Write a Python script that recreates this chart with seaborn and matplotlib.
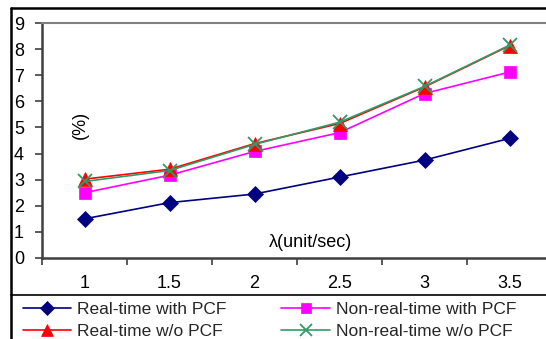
import matplotlib
matplotlib.use("Agg")
import matplotlib.pyplot as plt
from matplotlib.lines import Line2D
from matplotlib.ticker import FixedLocator
import seaborn as sns
import pandas as pd

sns.set_theme(style="white")
plt.rcParams["font.family"] = ["Liberation Sans", "DejaVu Sans"]

# arrival rate (unit/sec)
lam = [1, 1.5, 2, 2.5, 3, 3.5]
lam_labels = ["1", "1.5", "2", "2.5", "3", "3.5"]

rt_with_pcf = [1.5, 2.12, 2.45, 3.1, 3.75, 4.58]
nrt_with_pcf = [2.5, 3.17, 4.08, 4.8, 6.3, 7.12]
rt_without_pcf = [3.02, 3.4, 4.38, 5.15, 6.55, 8.13]
nrt_without_pcf = [2.93, 3.35, 4.35, 5.2, 6.57, 8.15]

series = [
    ("Real-time with PCF", rt_with_pcf, "#000080", "D", 8.5),
    ("Non-real-time with PCF", nrt_with_pcf, "#FF00FF", "s", 8.5),
    ("Real-time w/o PCF", rt_without_pcf, "#FF0000", "^", 9.5),
    ("Non-real-time w/o PCF", nrt_without_pcf, "#339966", "x", 10),
]

W, H = 546, 339
fig = plt.figure(figsize=(W / 100, H / 100), dpi=100)

left_px, right_px, top_px, bottom_px = 42, 552, 23, 258
ax = fig.add_axes([left_px / W, 1 - bottom_px / H,
                   (right_px - left_px) / W, (bottom_px - top_px) / H])

handles = {}
for name, vals, color, marker, ms in series:
    df = pd.DataFrame({"lam": lam, "val": vals})
    mew = 1.3 if marker == "x" else 0.5
    sns.lineplot(data=df, x="lam", y="val", ax=ax, color=color,
                 marker=marker, markersize=ms, linewidth=1.2,
                 markeredgecolor=color, markeredgewidth=mew, legend=False)
    handles[name] = Line2D([], [], color=color, marker=marker, markersize=ms * 0.85,
                           linewidth=1.2, markeredgecolor=color, markeredgewidth=mew)

ax.set_xlim(0.75, 3.75)
ax.set_ylim(0, 9)
ax.set_xlabel("")
ax.set_ylabel("")

ax.xaxis.set_major_locator(FixedLocator(lam))
ax.set_xticklabels(lam_labels)
ax.xaxis.set_minor_locator(FixedLocator([0.75 + 0.5 * i for i in range(7)]))
ax.tick_params(axis="x", which="major", length=0, pad=12, labelsize=13, labelcolor="black")
ax.tick_params(axis="x", which="minor", bottom=True, length=5, width=1.2, color="#404040", direction="out")
ax.set_yticks(range(10))
ax.tick_params(axis="y", which="major", left=True, length=5, width=1.2, color="#404040",
               direction="out", pad=8, labelsize=13, labelcolor="black")

for side in ("left", "bottom"):
    ax.spines[side].set_color("#404040")
    ax.spines[side].set_linewidth(1.8)
ax.spines["right"].set_visible(False)
ax.spines["top"].set_color("#808080")
ax.spines["top"].set_linewidth(1.5)

ax.text(0.0745, 0.566, "(%)", transform=ax.transAxes, rotation=90,
        ha="center", va="center", fontsize=13, color="black")
ax.text(0.527, 0.064, "λ(unit/sec)", transform=ax.transAxes,
        ha="center", va="center", fontsize=13, color="black")

# outer chart border and legend separator
fig.add_artist(Line2D([11 / W, 11 / W], [0, 1 - 8 / H], color="black", linewidth=1.8,
                      transform=fig.transFigure))
fig.add_artist(Line2D([11 / W, 1], [1 - 8 / H, 1 - 8 / H], color="black", linewidth=1.8,
                      transform=fig.transFigure))
fig.add_artist(Line2D([11 / W, 1], [1 - 295 / H, 1 - 295 / H], color="black", linewidth=1.2,
                      transform=fig.transFigure))

order = ["Real-time with PCF", "Real-time w/o PCF",
         "Non-real-time with PCF", "Non-real-time w/o PCF"]
fig.legend([handles[n] for n in order], order, ncol=2, loc="upper left",
           bbox_to_anchor=(13 / W, 1 - 292 / H), frameon=False,
           fontsize=12.5, handlelength=2.8, handletextpad=0.35,
           columnspacing=3.15, labelspacing=0.43, borderpad=0.05)

fig.savefig("out.png", dpi=100)
